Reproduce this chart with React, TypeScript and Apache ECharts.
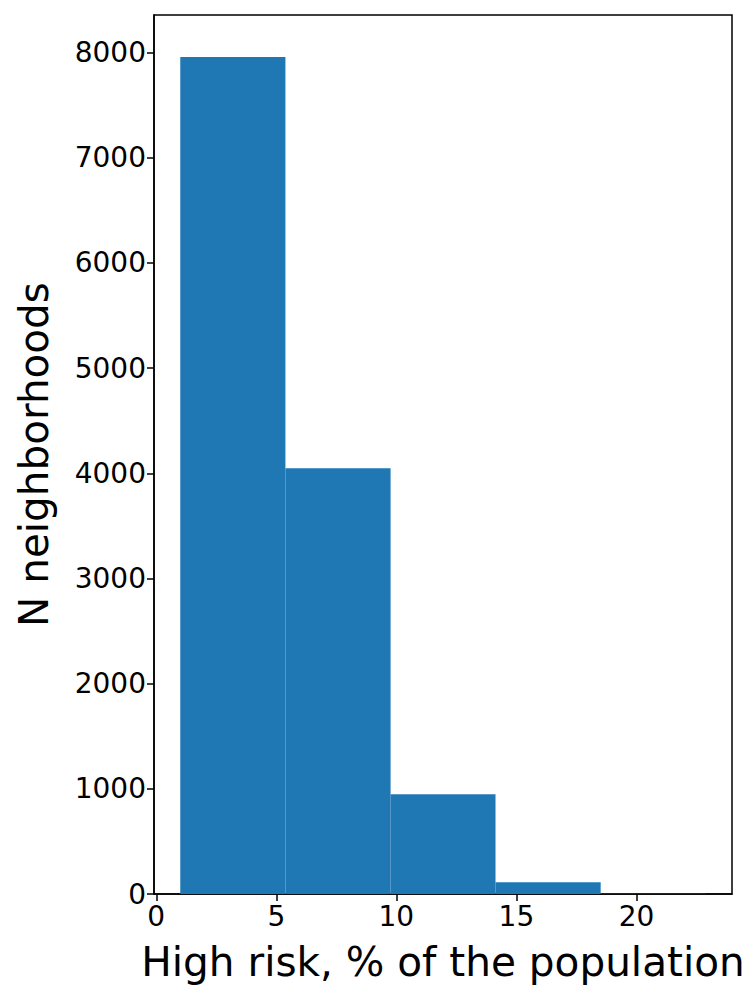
import React, { useEffect, useRef } from "react";
import * as echarts from "echarts";

// Histogram bin edges (% of population) and counts
const binEdges = [1.0, 5.38, 9.76, 14.13, 18.51, 22.89];
const counts = [7957, 4048, 948, 111, 2];
const xTicks = [0, 5, 10, 15, 20];
const yTicks = [0, 1000, 2000, 3000, 4000, 5000, 6000, 7000, 8000];
const xTitle = "High risk, % of the population";
const yTitle = "N neighborhoods";

export default function App() {
  const ref = useRef<HTMLDivElement>(null);
  useEffect(() => {
    document.body.style.margin = "0";
    const chart = echarts.init(ref.current!, undefined, { renderer: "svg" });
    const data = counts.map((c, i) => [binEdges[i], binEdges[i + 1], c]);
    const font = "DejaVu Sans";
    chart.setOption({
      animation: false,
      backgroundColor: "#fff",
      grid: {
        left: 154,
        right: 15,
        top: 15,
        bottom: 107,
        containLabel: false,
        outerBoundsMode: "none",
        show: true,
        borderColor: "#000",
        borderWidth: 1.5,
      },
      xAxis: {
        type: "value",
        min: -0.094,
        max: 23.98,
        name: xTitle,
        nameLocation: "middle",
        nameGap: 47,
        nameTextStyle: { fontFamily: font, fontSize: 40.6, color: "#000" },
        axisLine: { show: true, onZero: false, lineStyle: { color: "#000", width: 1.5 } },
        axisTick: {
          show: true,
          customValues: xTicks,
          length: 7,
          lineStyle: { color: "#000", width: 1.5 },
        },
        axisLabel: {
          customValues: xTicks,
          fontFamily: font,
          fontSize: 28,
          color: "#000",
          margin: 8,
          formatter: (v: number) => String(v),
        },
        splitLine: { show: false },
      },
      yAxis: {
        type: "value",
        min: 0,
        max: 8357,
        name: yTitle,
        nameLocation: "middle",
        nameGap: 100,
        nameTextStyle: { fontFamily: font, fontSize: 40.5, color: "#000" },
        axisLine: { show: true, onZero: false, lineStyle: { color: "#000", width: 1.5 } },
        axisTick: {
          show: true,
          customValues: yTicks,
          length: 7,
          lineStyle: { color: "#000", width: 1.5 },
        },
        axisLabel: {
          customValues: yTicks,
          fontFamily: font,
          fontSize: 28,
          color: "#000",
          margin: 8,
          formatter: (v: number) => String(v),
        },
        splitLine: { show: false },
      },
      series: [
        {
          type: "custom",
          data,
          encode: { x: [0, 1], y: 2 },
          renderItem: (params: any, api: any) => {
            const p0 = api.coord([api.value(0), api.value(2)]);
            const p1 = api.coord([api.value(1), 0]);
            return {
              type: "rect",
              shape: { x: p0[0], y: p0[1], width: p1[0] - p0[0], height: p1[1] - p0[1] },
              style: { fill: "#1f77b4" },
            };
          },
        },
      ],
    });
    return () => chart.dispose();
  }, []);
  return <div ref={ref} style={{ width: 747, height: 1001 }} />;
}
